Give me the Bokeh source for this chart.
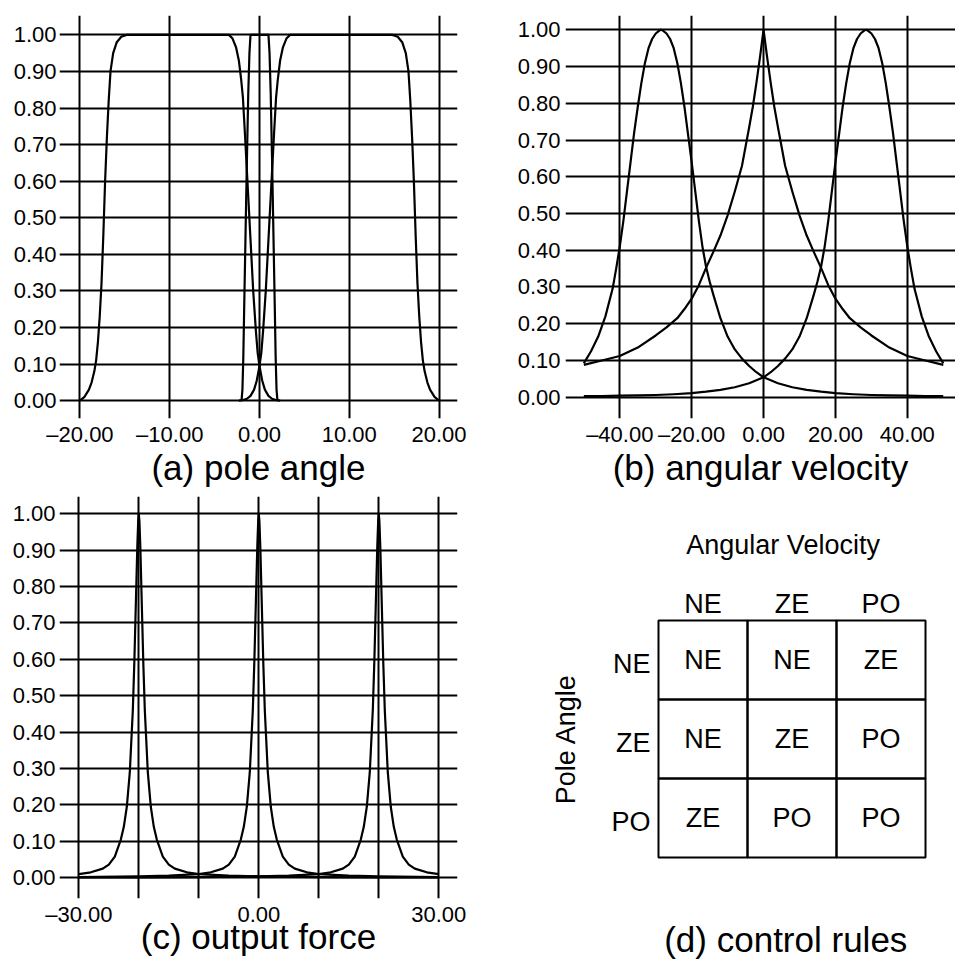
import math
from bokeh.plotting import figure
from bokeh.layouts import column, row
from bokeh.models import Range1d, FixedTicker
from bokeh.core.properties import value
from bokeh.embed import file_html
from bokeh.resources import INLINE

FONT = "Liberation Sans"

# ---------------- data ----------------
y_ticks = [0.0, 0.1, 0.2, 0.3, 0.4, 0.5, 0.6, 0.7, 0.8, 0.9, 1.0]
y_labels = ["0.00", "0.10", "0.20", "0.30", "0.40", "0.50", "0.60", "0.70", "0.80", "0.90", "1.00"]

# (a) pole angle
a_xticks = [-20, -10, 0, 10, 20]
a_xlabels = ["\u201320.00", "\u201310.00", "0.00", "10.00", "20.00"]
a_ne_x = [-20.0, -19.5, -19.0, -18.7, -18.4, -18.2, -18.0, -17.8, -17.6, -17.4, -17.2, -17.0, -16.8, -16.6,
          -16.3, -15.9, -15.4, -14.8, -3.4, -3.0, -2.6, -2.3, -2.05, -1.85, -1.6, -1.3, -1.0, -0.7, -0.4,
          -0.2, 0.0, 0.3, 0.6, 1.0, 1.4, 1.9, 2.3]
a_ne_y = [0.0, 0.01, 0.03, 0.05, 0.08, 0.11, 0.16, 0.23, 0.32, 0.45, 0.6, 0.72, 0.82, 0.9,
          0.95, 0.98, 0.995, 1.0, 1.0, 0.99, 0.965, 0.93, 0.88, 0.83, 0.72, 0.58, 0.44, 0.3, 0.19,
          0.13, 0.095, 0.055, 0.03, 0.013, 0.005, 0.001, 0.0]
a_ze_x = [-2.0, -1.9, -1.8, -1.7, -1.55, -1.4, -1.25, -1.12, -1.0, 1.0, 1.12, 1.25, 1.4, 1.55, 1.7, 1.8, 1.9, 2.0]
a_ze_y = [0.0, 0.03, 0.12, 0.26, 0.46, 0.66, 0.84, 0.95, 1.0, 1.0, 0.95, 0.84, 0.66, 0.46, 0.26, 0.12, 0.03, 0.0]
a_po_x = [-2.3, -1.9, -1.4, -1.0, -0.6, -0.3, 0.0, 0.2, 0.4, 0.7, 1.0, 1.3, 1.6, 1.85, 2.05, 2.3, 2.6, 3.0,
          3.4, 14.8, 15.4, 15.9, 16.3, 16.6, 16.8, 17.0, 17.2, 17.4, 17.6, 17.8, 18.0, 18.2, 18.4, 18.7,
          19.0, 19.5, 20.0]
a_po_y = [0.0, 0.001, 0.005, 0.013, 0.03, 0.055, 0.095, 0.13, 0.19, 0.3, 0.44, 0.58, 0.72, 0.83, 0.88, 0.93,
          0.965, 0.99, 1.0, 1.0, 0.995, 0.98, 0.95, 0.9, 0.82, 0.72, 0.6, 0.45, 0.32, 0.23, 0.16, 0.11,
          0.08, 0.05, 0.03, 0.01, 0.0]

# (b) angular velocity
b_xticks = [-40, -20, 0, 20, 40]
b_xlabels = ["\u201340.00", "\u201320.00", "0.00", "20.00", "40.00"]
b_ne_x = [-50, -48, -46, -44, -42, -41, -40, -39, -38, -37, -36, -35, -34, -33, -32, -31, -30, -29, -28.6, -28,
          -27, -26, -25, -24, -23, -22, -21, -20, -19, -18, -17, -16, -15, -14, -12, -10, -8, -6, -4, -2,
          0, 4, 8, 12, 16, 20, 25, 30, 35, 40, 45, 50]
b_ne_y = [0.092, 0.125, 0.165, 0.22, 0.295, 0.35, 0.41, 0.48, 0.56, 0.64, 0.72, 0.79, 0.855, 0.91, 0.95, 0.975,
          0.99, 0.998, 1.0, 0.998, 0.99, 0.975, 0.95, 0.91, 0.855, 0.79, 0.715, 0.64, 0.56, 0.48, 0.41,
          0.355, 0.315, 0.28, 0.215, 0.165, 0.13, 0.105, 0.085, 0.068, 0.054, 0.038, 0.027, 0.02, 0.015,
          0.011, 0.008, 0.006, 0.005, 0.004, 0.003, 0.003]
b_ze_x = [-50, -45, -40, -35, -30, -27, -24, -22, -20, -18, -16, -14, -12, -10, -8, -6, -4, -3, -2, -1, 0,
          1, 2, 3, 4, 6, 8, 10, 12, 14, 16, 18, 20, 22, 24, 27, 30, 35, 40, 45, 50]
b_ze_y = [0.088, 0.1, 0.112, 0.135, 0.168, 0.19, 0.215, 0.24, 0.268, 0.305, 0.352, 0.395, 0.44, 0.495, 0.56,
          0.63, 0.735, 0.79, 0.855, 0.925, 1.0, 0.925, 0.855, 0.79, 0.735, 0.63, 0.56, 0.495, 0.44, 0.395,
          0.352, 0.305, 0.268, 0.24, 0.215, 0.19, 0.168, 0.135, 0.112, 0.1, 0.088]
b_po_x = [-50, -45, -40, -35, -30, -25, -20, -16, -12, -8, -4, 0, 2, 4, 6, 8, 10, 12, 14, 15, 16, 17, 18, 19,
          20, 21, 22, 23, 24, 25, 26, 27, 28, 28.6, 29, 30, 31, 32, 33, 34, 35, 36, 37, 38, 39, 40, 41, 42,
          44, 46, 48, 50]
b_po_y = [0.003, 0.003, 0.004, 0.005, 0.006, 0.008, 0.011, 0.015, 0.02, 0.027, 0.038, 0.054, 0.068, 0.085,
          0.105, 0.13, 0.165, 0.215, 0.28, 0.315, 0.355, 0.41, 0.48, 0.56, 0.64, 0.715, 0.79, 0.855, 0.91,
          0.95, 0.975, 0.99, 0.998, 1.0, 0.998, 0.99, 0.975, 0.95, 0.91, 0.855, 0.79, 0.72, 0.64, 0.56, 0.48,
          0.41, 0.35, 0.295, 0.22, 0.165, 0.125, 0.092]

# (c) output force
c_xticks = [-30, -20, -10, 0, 10, 20, 30]
c_xlabels = ["\u201330.00", "", "", "0.00", "", "", "30.00"]
c_ne_x = [-30, -28, -26, -25, -24, -23, -22.5, -22, -21.5, -21, -20.75, -20.5, -20.25, -20.1, -20, -19.9,
          -19.75, -19.5, -19.25, -19, -18.5, -18, -17.5, -17, -16, -15, -14, -12, -10, -5, 0, 10, 20, 30]
c_ne_y = [0.01, 0.015, 0.025, 0.036, 0.058, 0.105, 0.14, 0.195, 0.29, 0.46, 0.59, 0.75, 0.91, 0.98, 1.0, 0.98,
          0.91, 0.75, 0.59, 0.46, 0.29, 0.195, 0.14, 0.105, 0.058, 0.036, 0.025, 0.015, 0.01, 0.006, 0.004,
          0.002, 0.001, 0.001]
c_ze_x = [-30, -20, -15, -10, -8, -6, -5, -4, -3, -2.5, -2, -1.5, -1, -0.75, -0.5, -0.25, -0.1, 0, 0.1, 0.25,
          0.5, 0.75, 1, 1.5, 2, 2.5, 3, 4, 5, 6, 8, 10, 15, 20, 30]
c_ze_y = [0.002, 0.004, 0.006, 0.01, 0.015, 0.025, 0.036, 0.058, 0.105, 0.14, 0.195, 0.29, 0.46, 0.59, 0.75,
          0.91, 0.98, 1.0, 0.98, 0.91, 0.75, 0.59, 0.46, 0.29, 0.195, 0.14, 0.105, 0.058, 0.036, 0.025,
          0.015, 0.01, 0.006, 0.004, 0.002]
c_po_x = [-30, -20, -10, 0, 5, 10, 12, 14, 15, 16, 17, 17.5, 18, 18.5, 19, 19.25, 19.5, 19.75, 19.9, 20, 20.1,
          20.25, 20.5, 20.75, 21, 21.5, 22, 22.5, 23, 24, 25, 26, 28, 30]
c_po_y = [0.001, 0.001, 0.002, 0.004, 0.006, 0.01, 0.015, 0.025, 0.036, 0.058, 0.105, 0.14, 0.195, 0.29, 0.46,
          0.59, 0.75, 0.91, 0.98, 1.0, 0.98, 0.91, 0.75, 0.59, 0.46, 0.29, 0.195, 0.14, 0.105, 0.058, 0.036,
          0.025, 0.015, 0.01]

# (d) control rules
velocity_terms = ["NE", "ZE", "PO"]   # columns
angle_terms = ["NE", "ZE", "PO"]      # rows
rules = [["NE", "NE", "ZE"],
         ["NE", "ZE", "PO"],
         ["ZE", "PO", "PO"]]

titles = ["(a) pole angle", "(b) angular velocity", "(c) output force", "(d) control rules"]

TITLE_SIZE = "35px"
TICK_SIZE = "22px"
TABLE_SIZE = "27px"


# ---------------- helpers ----------------
def panel(width, height, borders, xr, yr):
    l, r, t, b = borders
    p = figure(width=width, height=height, x_range=Range1d(*xr), y_range=Range1d(*yr),
               output_backend="svg", toolbar_location=None,
               min_border_left=l, min_border_right=r, min_border_top=t, min_border_bottom=b)
    p.outline_line_color = None
    p.background_fill_color = "white"
    p.border_fill_color = "white"
    return p


def bare_axis(ax, size):
    ax.axis_line_color = None
    ax.major_tick_line_color = None
    ax.minor_tick_line_color = None
    ax.major_tick_in = 0
    ax.major_tick_out = 0
    ax.minor_tick_in = 0
    ax.minor_tick_out = 0
    ax.major_label_text_font = FONT
    ax.major_label_text_font_size = size
    ax.major_label_text_color = "black"


def style(p, xticks, xlabels, title, xstand, ystand, tstand):
    p.xgrid.ticker = FixedTicker(ticks=xticks)
    p.ygrid.ticker = FixedTicker(ticks=y_ticks)
    for g in (p.xgrid, p.ygrid):
        g.grid_line_color = "black"
        g.grid_line_width = 2
        g.grid_line_alpha = 1.0
    p.xaxis.ticker = FixedTicker(ticks=xticks)
    p.yaxis.ticker = FixedTicker(ticks=y_ticks)
    p.xaxis.major_label_overrides = dict(zip(xticks, xlabels))
    p.yaxis.major_label_overrides = dict(zip(y_ticks, y_labels))
    for ax in (p.xaxis, p.yaxis):
        bare_axis(ax, TICK_SIZE)
    p.xaxis.major_label_standoff = xstand
    p.yaxis.major_label_standoff = ystand
    p.xaxis.axis_label = title
    p.xaxis.axis_label_text_font = FONT
    p.xaxis.axis_label_text_font_size = TITLE_SIZE
    p.xaxis.axis_label_text_font_style = "normal"
    p.xaxis.axis_label_text_color = "black"
    p.xaxis.axis_label_standoff = tstand


def curves(p, pairs):
    for xs, ys in pairs:
        p.line(xs, ys, line_color="black", line_width=2.2, line_join="round")


# Row 1 plots share frame top/bottom (page y 15..418)
pa = panel(467, 496, (59, 10, 15, 78), (-22.28, 22.06), (-0.049, 1.053))
style(pa, a_xticks, a_xlabels, titles[0], 3, 3, -2)
curves(pa, [(a_ne_x, a_ne_y), (a_ze_x, a_ze_y), (a_po_x, a_po_y)])

pb = panel(488, 496, (98, 0, 15, 78), (-55.1, 53.4), (-0.058, 1.039))
style(pb, b_xticks, b_xlabels, titles[1], 3, 5, -2)
curves(pb, [(b_ne_x, b_ne_y), (b_ze_x, b_ze_y), (b_po_x, b_po_y)])

# Row 2 plots share frame top/bottom (page y 496..898)
pc = panel(467, 469, (59, 10, 0, 67), (-33.22, 33.12), (-0.057, 1.0475))
style(pc, c_xticks, c_xlabels, titles[2], 3, 4, -13)
curves(pc, [(c_ne_x, c_ne_y), (c_ze_x, c_ze_y), (c_po_x, c_po_y)])

# (d) rule table: one unit = one cell (89 x 79 px)
pd = figure(width=488, height=469, x_range=Range1d(-2.646, 2.837), y_range=Range1d(-3.019, 2.070),
            output_backend="svg", toolbar_location=None, x_axis_location="below", y_axis_location=None,
            min_border_left=0, min_border_right=0, min_border_top=0, min_border_bottom=0)
pd.outline_line_color = None
pd.grid.visible = False
pd.background_fill_color = "white"
pd.border_fill_color = "white"

# the panel caption sits under the table, centred on the middle column
CAPTION_X = 0.93
pd.xaxis.ticker = FixedTicker(ticks=[CAPTION_X])
pd.xaxis.major_label_overrides = {CAPTION_X: titles[3]}
bare_axis(pd.xaxis, TITLE_SIZE)
pd.xaxis.major_label_standoff = 21

cell_x, cell_y, cell_t = [], [], []
for r, rule_row in enumerate(rules):
    for c, out in enumerate(rule_row):
        cell_x.append(c)
        cell_y.append(-r)
        cell_t.append(out)
pd.rect(x=cell_x, y=cell_y, width=1, height=1, fill_color=None, line_color="black", line_width=2)
pd.text(x=cell_x, y=cell_y, text=cell_t, text_font=value(FONT), text_font_size=TABLE_SIZE,
        text_align="center", text_baseline="middle", text_color="black")

HEADER_OFFSET = 0.715
pd.text(x=list(range(len(velocity_terms))), y=[HEADER_OFFSET] * len(velocity_terms), text=velocity_terms,
        text_font=value(FONT), text_font_size=TABLE_SIZE, text_align="center", text_baseline="middle")
ROW_LABEL_OFFSET = -0.59
pd.text(x=[ROW_LABEL_OFFSET] * len(angle_terms), y=[-r - 0.05 for r in range(len(angle_terms))],
        text=angle_terms, text_font=value(FONT), text_font_size=TABLE_SIZE, text_align="right",
        text_baseline="middle")
pd.text(x=[0.9], y=[1.45], text=["Angular Velocity"], text_font=value(FONT), text_font_size=TABLE_SIZE,
        text_align="center", text_baseline="middle")
pd.text(x=[-1.54], y=[-1.0], text=["Pole Angle"], angle=math.pi / 2, text_font=value(FONT),
        text_font_size=TABLE_SIZE, text_align="center", text_baseline="middle")

layout = column(row(pa, pb), row(pc, pd))
open("out.html", "w").write(file_html(layout, INLINE))
